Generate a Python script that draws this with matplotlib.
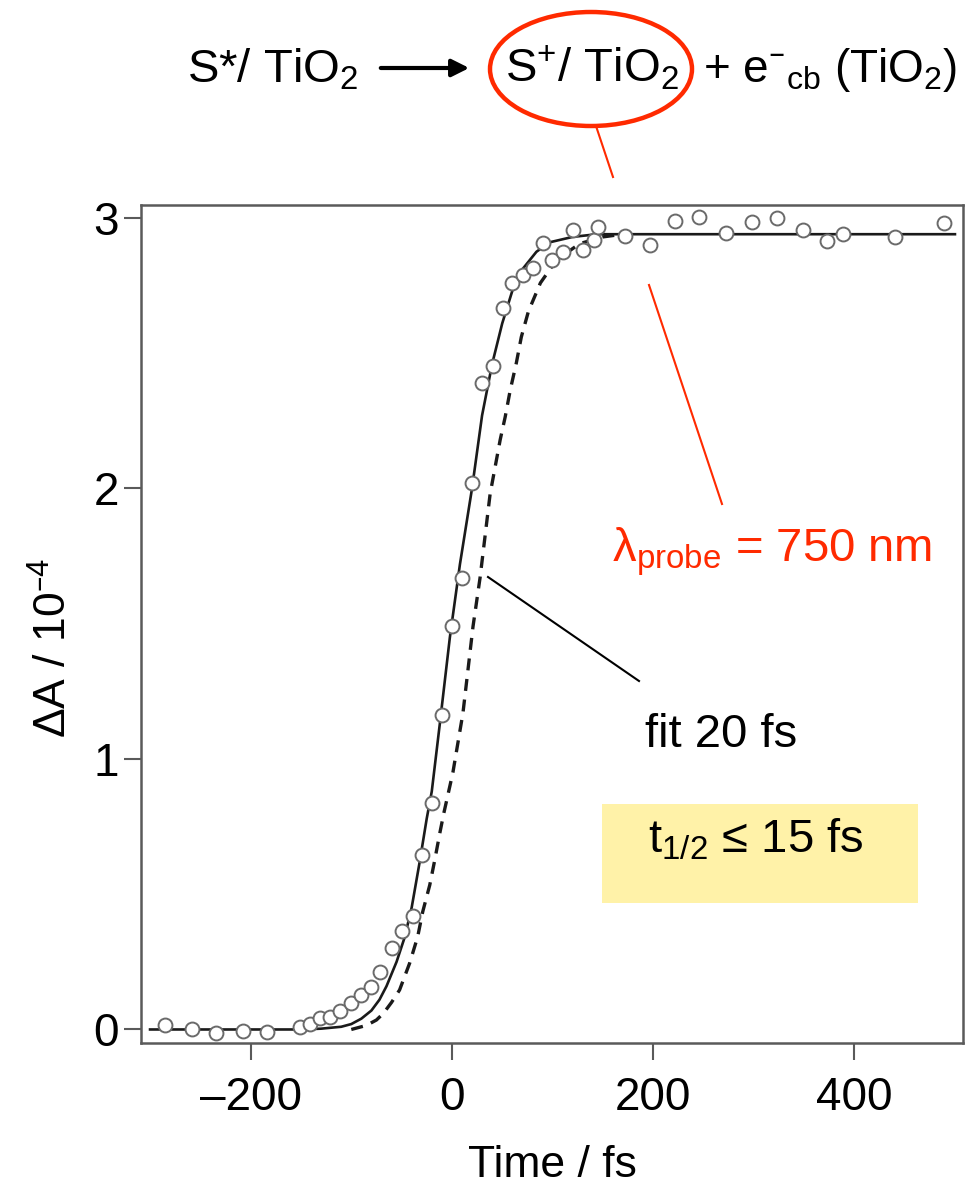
import matplotlib
matplotlib.use('Agg')
import matplotlib.pyplot as plt
from matplotlib.patches import Ellipse, Rectangle, FancyArrowPatch
from matplotlib.lines import Line2D

plt.rcParams['font.family'] = ['Liberation Sans', 'DejaVu Sans']
plt.rcParams['mathtext.default'] = 'regular'

# measured points (time in fs, dA in 1e-4)
t_data = [-285, -258, -234, -208, -184, -151, -141, -131, -121, -111, -100, -90,
          -80, -71, -60, -50, -39, -29.5, -19.6, -10.2, -0.3, 10.2, 19.6, 29.5,
          40.5, 50.4, 59.4, 70.3, 80.3, 90.3, 99.2, 110.8, 120.7, 130, 141.3,
          145.6, 172, 197, 222, 246, 272.6, 298, 323, 349, 372.8, 389, 440.8, 488.8]
dA_data = [0.017, 0.0, -0.012, -0.005, -0.008, 0.01, 0.02, 0.041, 0.047, 0.07,
           0.097, 0.128, 0.158, 0.214, 0.30, 0.365, 0.42, 0.645, 0.836, 1.163,
           1.49, 1.67, 2.02, 2.39, 2.454, 2.666, 2.76, 2.79, 2.814, 2.906, 2.845,
           2.875, 2.956, 2.88, 2.92, 2.966, 2.933, 2.90, 2.99, 3.005, 2.946,
           2.986, 2.999, 2.956, 2.916, 2.94, 2.93, 2.98]

# fit curve (solid)
t_fit = [-300, -150, -130, -110, -100, -90, -80, -72, -65, -55, -47, -40, -32,
         -25, -20, -12, -2, 8, 20, 30, 40, 50, 60, 70, 84, 97, 120, 144, 500]
dA_fit = [0, 0, 0.003, 0.01, 0.02, 0.04, 0.07, 0.11, 0.16, 0.25, 0.34, 0.45,
          0.62, 0.78, 0.88, 1.13, 1.45, 1.72, 2.00, 2.27, 2.46, 2.61, 2.73, 2.81,
          2.875, 2.91, 2.93, 2.94, 2.94]

# dashed curve
t_dash = [-100, -85, -75, -68, -60, -52, -42, -34, -29, -22, -17, -12, -8, 1,
          11, 21, 28, 38, 43, 48, 53, 58, 64, 69, 76, 88, 104, 127, 150, 170]
dA_dash = [0.0, 0.015, 0.035, 0.06, 0.10, 0.146, 0.245, 0.343, 0.435, 0.534,
           0.627, 0.726, 0.80, 0.95, 1.17, 1.49, 1.67, 1.98, 2.08, 2.18, 2.265,
           2.364, 2.463, 2.56, 2.654, 2.76, 2.845, 2.905, 2.93, 2.94]

x_ticks = [-200, 0, 200, 400]
x_ticklabels = ['\u2013200', '0', '200', '400']
y_ticks = [0, 1, 2, 3]

W, H = 969, 1189
def fp(x, y):
    return (x / W, 1 - y / H)

fig = plt.figure(figsize=(9.69, 11.89), dpi=100)
ax = fig.add_axes([141 / W, 1 - 1043 / H, (963 - 141) / W, (1043 - 205) / H])

ax.plot(t_dash, dA_dash, color='#1a1a1a', lw=2.4, ls=(0, (3.6, 2.6)), zorder=2)
ax.plot(t_fit, dA_fit, color='#1a1a1a', lw=1.9, zorder=3)
ax.plot(t_data, dA_data, 'o', ms=10, mfc='white', mec='#6a6a6a', mew=1.4, zorder=4)

ax.set_xlim(-309, 508)
ax.set_ylim(-0.05, 3.048)
ax.set_xticks(x_ticks)
ax.set_xticklabels(x_ticklabels)
ax.set_yticks(y_ticks)
for s in ax.spines.values():
    s.set_color('#5a5a5a')
    s.set_linewidth(1.8)
ax.tick_params(axis='both', direction='out', length=12, width=1.5, color='#5a5a5a',
               labelsize=33)
ax.tick_params(axis='x', pad=12)
ax.tick_params(axis='y', pad=4)

# axis titles
fig.text(552 / W, 1 - 1177 / H, 'Time / fs', fontsize=32, ha='center', va='baseline')
fig.text(54 / W, 1 - 648 / H, '\u0394A / 10$^{\u2013 4}$', fontsize=32, rotation=90,
         ha='center', va='center')

# reaction scheme on top
fig.text(187 / W, 1 - 82 / H, 'S*/ TiO$_2$', fontsize=34, ha='left', va='baseline')
fig.add_artist(FancyArrowPatch(fp(378, 68), fp(472, 68), transform=fig.transFigure,
                               arrowstyle='-|>', mutation_scale=26, lw=3, color='black'))
fig.text(505 / W, 1 - 82 / H, 'S$^{+}$/ TiO$_2$', fontsize=34, ha='left', va='baseline')
fig.text(703 / W, 1 - 82 / H, '+ e$^{\u2013}{}_{cb}$ (TiO$_2$)', fontsize=33,
         ha='left', va='baseline')
red = '#ff2a00'
fig.add_artist(Ellipse(fp(591, 69), 202 / W, 114 / H, transform=fig.transFigure,
                       fill=False, ec=red, lw=3.2))
fig.add_artist(Line2D([596 / W, 613 / W], [1 - 126 / H, 1 - 177 / H], color=red, lw=1.5))
fig.add_artist(Line2D([649 / W, 722 / W], [1 - 285 / H, 1 - 504 / H], color=red, lw=1.5))

fig.text(612 / W, 1 - 562 / H, '\u03bb$_{probe}$ = 750 nm', fontsize=34, color=red,
         ha='left', va='baseline')

fig.add_artist(Line2D([488 / W, 639 / W], [1 - 577 / H, 1 - 681 / H], color='black', lw=1.5))
fig.text(645 / W, 1 - 747 / H, 'fit 20 fs', fontsize=34, ha='left', va='baseline')

fig.add_artist(Rectangle(fp(602, 903), (918 - 602) / W, (903 - 804) / H,
                         transform=fig.transFigure, fc='#fff2a8', ec='none'))
fig.text(648 / W, 1 - 852 / H, 't$_{1/2}$ \u2264 15 fs', fontsize=34, ha='left',
         va='baseline')

fig.savefig('out.png', dpi=100)
